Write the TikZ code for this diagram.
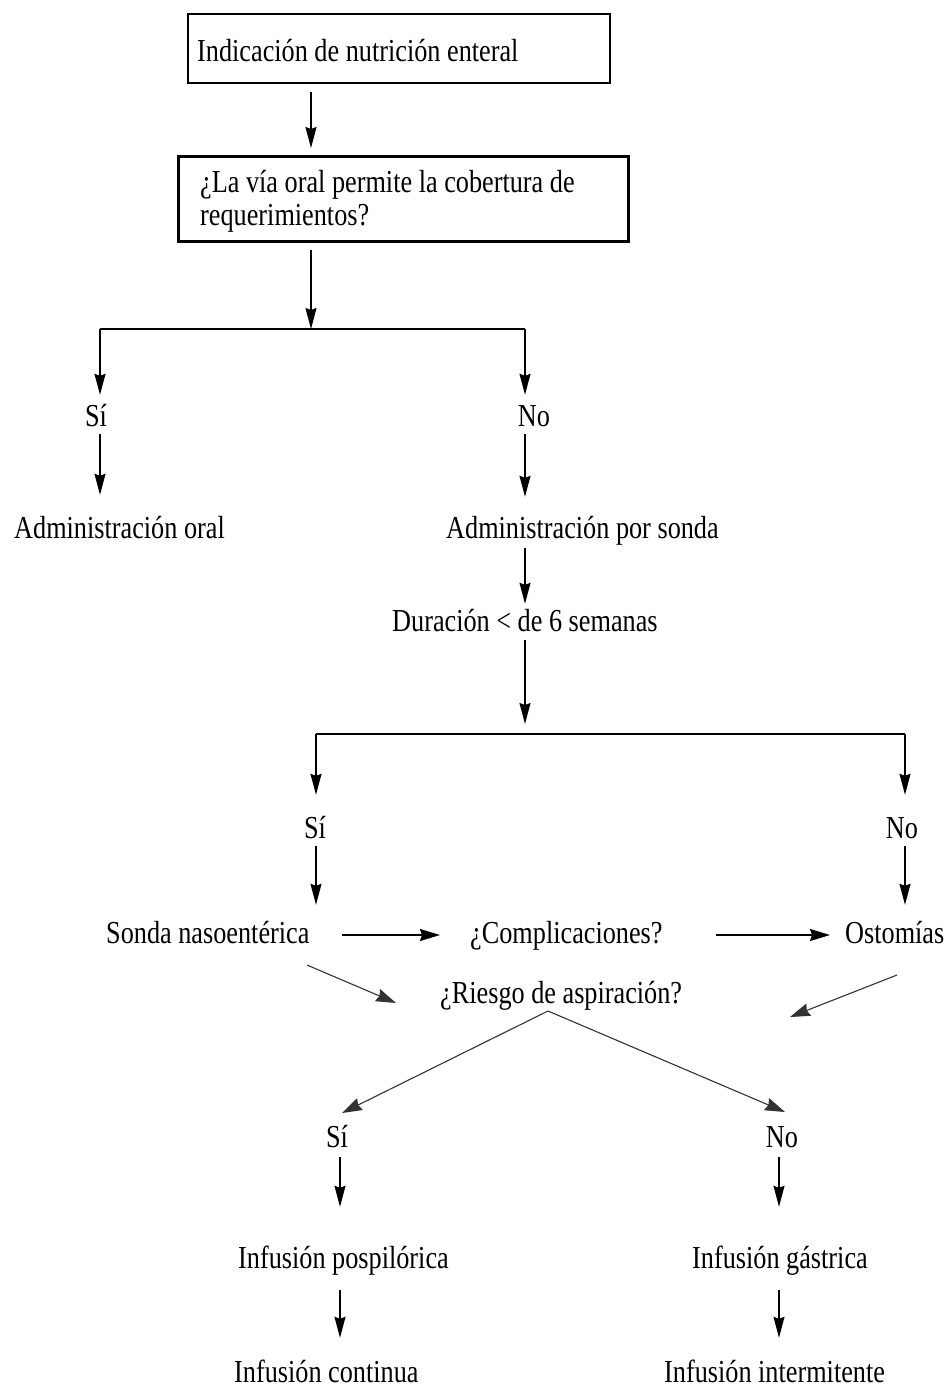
\documentclass[tikz,border=0pt]{standalone}
\usepackage{fontspec}
\setmainfont[FakeStretch=0.82]{Liberation Serif}
\usetikzlibrary{arrows.meta}
\begin{document}
\begin{tikzpicture}[x=1pt,y=-1pt,
  txt/.style={font=\fontsize{32}{33}\selectfont, inner sep=0pt, text height=24pt, text depth=8pt},
  frame/.style={draw, anchor=north west, inner sep=0pt},
  arr/.style={line width=1.4pt, -{Stealth[length=21pt,width=11pt,inset=2pt]}},
  harr/.style={line width=1.6pt, -{Stealth[length=20pt,width=12pt,inset=2pt]}},
  darr/.style={line width=1.1pt, draw=black!80, -{Stealth[length=20pt,width=13pt,inset=2pt]}},
  bar/.style={line width=2pt}]
\useasboundingbox (0,0) rectangle (948,1387);

% column references
\coordinate (colA) at (311,0);
\coordinate (colB) at (100,0);
\coordinate (colC) at (525,0);
\coordinate (colD) at (316,0);
\coordinate (colE) at (905,0);
\coordinate (colF) at (340,0);
\coordinate (colG) at (779,0);

% boxes and their texts
\node[frame, line width=1.6pt, minimum width=422pt, minimum height=69pt] (b1) at (187,13) {};
\node[frame, line width=3pt, minimum width=450pt, minimum height=85pt] (b2) at (177,155) {};
\node[txt, anchor=base west] (t1) at (197,61) {Indicación de nutrición enteral};
\node[txt, anchor=base west] (t2a) at (200,192) {¿La vía oral permite la cobertura de};
\node[txt, anchor=base west] (t2b) at (200,225) {requerimientos?};

% branching junctions
\coordinate (j1) at (311,329);
\coordinate (j2) at (525,734);

% text nodes
\node[txt, anchor=base] (si1) at (96,426) {Sí};
\node[txt, anchor=base] (no1) at (534,426) {No};
\node[txt, anchor=base west] (admoral) at (14,538) {Administración oral};
\node[txt, anchor=base west] (admsonda) at (446,538) {Administración por sonda};
\node[txt, anchor=base west] (dur) at (392,631) {Duración < de 6 semanas};
\node[txt, anchor=base] (si2) at (315,838) {Sí};
\node[txt, anchor=base] (no2) at (902,838) {No};
\node[txt, anchor=base west] (sonda) at (106,943) {Sonda nasoentérica};
\node[txt, anchor=base west] (compl) at (470,943) {¿Complicaciones?};
\node[txt, anchor=base west] (osto) at (845,943) {Ostomías};
\node[txt, anchor=base west] (riesgo) at (440,1003) {¿Riesgo de aspiración?};
\node[txt, anchor=base] (si3) at (337,1147) {Sí};
\node[txt, anchor=base] (no3) at (782,1147) {No};
\node[txt, anchor=base west] (pospil) at (238,1268) {Infusión pospilórica};
\node[txt, anchor=base west] (gastr) at (692,1268) {Infusión gástrica};
\node[txt, anchor=base west] (cont) at (234,1382) {Infusión continua};
\node[txt, anchor=base west] (interm) at (664,1382) {Infusión intermitente};

% free ends of the slanted connectors
\coordinate (sondaOut) at (307,965);
\coordinate (riesgoInL) at (396,1003);
\coordinate (ostoOut) at (897,975);
\coordinate (riesgoInR) at (790,1017);
\coordinate (apex) at (548,1011);
\coordinate (si3In) at (342,1113);
\coordinate (no3In) at (785,1112);

% vertical flow
\draw[arr, shorten <=8pt, shorten >=7pt] (b1.south -| colA) -- (b2.north -| colA);
\draw[arr, shorten <=7pt] (b2.south -| colA) -- (j1);
\draw[bar] (j1 -| colB) -- (j1 -| colC);
\draw[arr, shorten >=7pt] (j1 -| colB) -- (si1.north -| colB);
\draw[arr, shorten >=7pt] (j1 -| colC) -- (no1.north -| colC);
\draw[arr, shorten >=19pt] (si1.south -| colB) -- (admoral.north -| colB);
\draw[arr, shorten >=17pt] (no1.south -| colC) -- (admsonda.north -| colC);
\draw[arr, shorten <=2pt, shorten >=3pt] (admsonda.south -| colC) -- (dur.north -| colC);
\draw[arr, shorten <=1pt, shorten >=10pt] (dur.south -| colC) -- (j2);
\draw[bar] (j2 -| colD) -- (j2 -| colE);
\draw[arr, shorten >=19pt] (j2 -| colD) -- (si2.north -| colD);
\draw[arr, shorten >=19pt] (j2 -| colE) -- (no2.north -| colE);
\draw[arr, shorten >=14pt] (si2.south -| colD) -- (sonda.north -| colD);
\draw[arr, shorten >=14pt] (no2.south -| colE) -- (osto.north -| colE);

% across the row
\draw[harr, shorten <=32pt, shorten >=30pt] (sonda.east) -- (compl.west);
\draw[harr, shorten <=53pt, shorten >=15pt] (compl.east) -- (osto.west);

% slanted connectors
\draw[darr] (sondaOut) -- (riesgoInL);
\draw[darr] (ostoOut) -- (riesgoInR);
\draw[darr] (apex) -- (si3In);
\draw[darr] (apex) -- (no3In);

% lower branches
\draw[arr, shorten <=2pt, shorten >=37pt] (si3.south -| colF) -- (pospil.north -| colF);
\draw[arr, shorten <=2pt, shorten >=37pt] (no3.south -| colG) -- (gastr.north -| colG);
\draw[arr, shorten <=14pt, shorten >=20pt] (pospil.south -| colF) -- (cont.north -| colF);
\draw[arr, shorten <=14pt, shorten >=20pt] (gastr.south -| colG) -- (interm.north -| colG);
\end{tikzpicture}
\end{document}
